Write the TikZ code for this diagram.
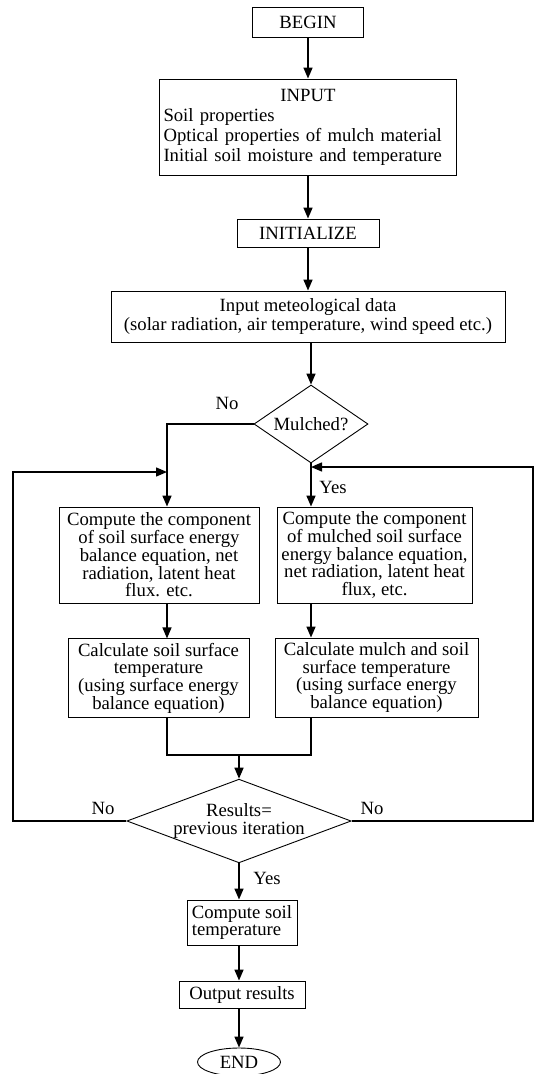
\documentclass[tikz,border=0pt]{standalone}
\usepackage{fontspec}
\setmainfont{Liberation Serif}
\usetikzlibrary{shapes.geometric,arrows.meta}

\begin{document}
\begin{tikzpicture}[x=1pt,y=1pt,
  box/.style={draw,line width=0.9pt,inner sep=4pt,align=center,font=\fontsize{18.7}{17.7}\selectfont},
  dec/.style={draw,diamond,line width=0.9pt,inner sep=0pt,align=center,font=\fontsize{18.7}{17.7}\selectfont},
  flow/.style={line width=1.4pt,-{Triangle[length=11pt,width=9pt]}},
  link/.style={line width=1.4pt},
  lbl/.style={font=\fontsize{18.7}{17.7}\selectfont}]

\useasboundingbox (0,0) rectangle (534,-1074);

\node[box,minimum width=111pt,minimum height=30pt] (begin) at (308,-22) {BEGIN};
\node[box,minimum width=297pt,minimum height=96pt,text width=289pt,align=left,font=\fontsize{18.7}{20}\selectfont] (input) at (308,-127) {\makebox[289pt]{INPUT}\\Soil properties\\Optical properties of mulch material\\Initial soil moisture and temperature};
\node[box,minimum width=142pt,minimum height=28pt] (init) at (308,-233) {INITIALIZE};
\node[box,minimum width=394pt,minimum height=51pt,font=\fontsize{18.7}{19.5}\selectfont] (meteo) at (308,-316.5) {Input meteological data\\(solar radiation, air temperature, wind speed etc.)};
\node[dec,minimum width=114pt,minimum height=78pt,aspect=1.46] (mulch) at (311,-424) {Mulched?};

\node[box,minimum width=200pt,minimum height=96pt] (soil1) at (159,-555) {Compute the component\\of soil surface energy\\balance equation, net\\radiation, latent heat\\flux. etc.};
\node[box,minimum width=195pt,minimum height=96pt] (mulch1) at (374.5,-555) {Compute the component\\of mulched soil surface\\energy balance equation,\\net radiation, latent heat\\flux, etc.};
\node[box,minimum width=181pt,minimum height=78pt] (soil2) at (158.5,-678) {Calculate soil surface\\temperature\\(using surface energy\\balance equation)};
\node[box,minimum width=203pt,minimum height=79pt] (mulch2) at (376.5,-677.5) {Calculate mulch and soil\\surface temperature\\(using surface energy\\balance equation)};

\node[dec,minimum width=217pt,minimum height=81pt,aspect=2.68] (conv) at (239,-821) {Results=\\previous iteration};
\node[box,minimum width=110pt,minimum height=45pt,align=left] (soilT) at (242,-922.5) {Compute soil\\temperature};
\node[box,minimum width=126pt,minimum height=27pt] (out) at (242,-994.5) {Output results};
\node[draw,ellipse,line width=0.9pt,minimum width=83pt,minimum height=28pt,inner sep=0pt,font=\fontsize{18.7}{17.7}\selectfont] (end) at (239,-1062) {END};

\node[lbl] (no1) at (227,-403) {No};
\node[lbl] (yes1) at (333,-487) {Yes};
\node[lbl] (no2) at (103,-808) {No};
\node[lbl] (no3) at (372,-808) {No};
\node[lbl] (yes2) at (267,-878) {Yes};

\coordinate (lx) at (167,0);
\coordinate (mg) at (239,-755);
\coordinate (lp) at (13,-472);
\coordinate (rp) at (533,-467);

\draw[flow] (begin) -- (input);
\draw[flow] (input) -- (init);
\draw[flow] (init) -- (meteo);
\draw[flow] (meteo.south -| mulch) -- (mulch.north);
\draw[flow] (mulch.west) -| (soil1.north -| lx);
\draw[flow] (mulch.south) -- (mulch1.north -| mulch);
\draw[flow] (soil1.south -| lx) -- (soil2.north -| lx);
\draw[flow] (mulch1.south -| mulch) -- (mulch2.north -| mulch);
\draw[link] (soil2.south -| lx) -- (lx |- mg) -- (mg -| mulch) -- (mulch2.south -| mulch);
\draw[flow] (mg) -- (conv.north);
\draw[flow] (conv.west) -| (lp) -- (lp -| lx);
\draw[flow] (conv.east) -| (rp) -- (rp -| mulch);
\draw[flow] (conv.south) -- (soilT.north -| conv);
\draw[flow] (soilT.south -| conv) -- (out.north -| conv);
\draw[flow] (out.south -| conv) -- (end.north);
\end{tikzpicture}
\end{document}
